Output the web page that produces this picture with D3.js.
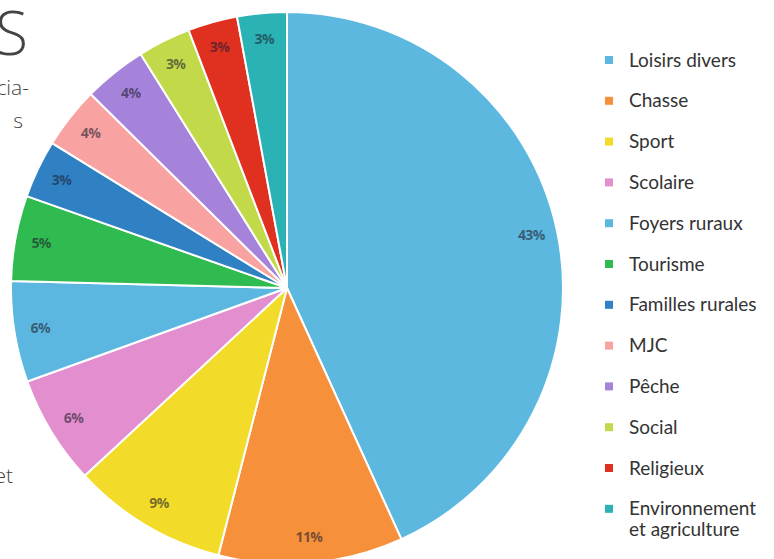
<!DOCTYPE html>
<html lang="fr">
<head>
<meta charset="utf-8">
<title>Associations par type</title>
<script src="https://cdn.jsdelivr.net/npm/d3@7"></script>
<style>
  body { margin: 0; background: #fff; }
  svg { display: block; }
</style>
</head>
<body>
<div id="chart"></div>
<script>
// categories, values (share in %) and the printed labels
var categories = ["Loisirs divers", "Chasse", "Sport", "Scolaire", "Foyers ruraux", "Tourisme",
                  "Familles rurales", "MJC", "Pêche", "Social", "Religieux", "Environnement et agriculture"];
var values = [43.2, 10.8, 9.1, 6.4, 5.9, 5.0, 3.4, 3.6, 3.7, 3.1, 2.9, 2.9];
var valueLabels = ["43%", "11%", "9%", "6%", "6%", "5%", "3%", "4%", "4%", "3%", "3%", "3%"];
var colors = ["#5cb8df", "#f6903a", "#f3dc29", "#e38fcf", "#5cb7e0", "#2fbb4f",
              "#2f81c4", "#f9a2a2", "#a683da", "#c2da4a", "#df3020", "#2ab2b4"];

var width = 774, height = 559;
var cx = 287, cy = 288, radius = 276;

var svg = d3.select("#chart").append("svg")
  .attr("width", width)
  .attr("height", height);

// cut-off page text on the left
var pageText = svg.append("g")
  .attr("fill", "#444")
  .attr("font-family", "'Open Sans', sans-serif")
  .attr("font-weight", 300)
  .attr("text-anchor", "end");
pageText.append("text").attr("x", 28).attr("y", 55).attr("font-size", 60).text("S");
pageText.append("text").attr("x", 29).attr("y", 95).attr("font-size", 21).text("cia-");
pageText.append("text").attr("x", 23).attr("y", 128).attr("font-size", 21).text("s");
pageText.append("text").attr("x", 13).attr("y", 483).attr("font-size", 21).text("et");

var data = categories.map(function(c, i) {
  return { name: c, value: values[i], label: valueLabels[i], color: colors[i] };
});

var pie = d3.pie()
  .sort(null)
  .value(function(d) { return d.value; });

var arc = d3.arc().innerRadius(0).outerRadius(radius);
var labelArc = d3.arc().innerRadius(250).outerRadius(250);

var g = svg.append("g")
  .attr("transform", "translate(" + cx + "," + cy + ")");

var slices = g.selectAll("g.slice")
  .data(pie(data))
  .enter().append("g")
  .attr("class", "slice");

slices.append("path")
  .attr("d", arc)
  .attr("fill", function(d) { return d.data.color; })
  .attr("stroke", "#fff")
  .attr("stroke-width", 2)
  .attr("stroke-linejoin", "round");

slices.append("text")
  .attr("transform", function(d) { return "translate(" + labelArc.centroid(d) + ")"; })
  .attr("text-anchor", "middle")
  .attr("dy", "0.35em")
  .attr("font-family", "'Open Sans', sans-serif")
  .attr("font-weight", 700)
  .attr("font-size", 14)
  .attr("letter-spacing", -0.6)
  .attr("fill", "#1e1e30")
  .attr("fill-opacity", 0.6)
  .text(function(d) { return d.data.label; });

// legend
var legend = svg.append("g")
  .attr("transform", "translate(605,60)");

var rowStep = 40.8;
var items = legend.selectAll("g.item")
  .data(data)
  .enter().append("g")
  .attr("class", "item")
  .attr("transform", function(d, i) { return "translate(0," + (i * rowStep) + ")"; });

items.append("rect")
  .attr("x", 0)
  .attr("y", -4)
  .attr("width", 8)
  .attr("height", 8)
  .attr("fill", function(d) { return d.color; });

items.append("text")
  .attr("x", 24)
  .attr("y", 6.5)
  .attr("font-family", "Lato, sans-serif")
  .attr("font-size", 19)
  .attr("fill", "#333")
  .each(function(d) {
    var t = d3.select(this);
    if (d.name === "Environnement et agriculture") {
      t.append("tspan").attr("x", 24).attr("dy", 0).text("Environnement");
      t.append("tspan").attr("x", 24).attr("dy", 21).text("et agriculture");
    } else {
      t.text(d.name);
    }
  });
</script>
</body>
</html>
